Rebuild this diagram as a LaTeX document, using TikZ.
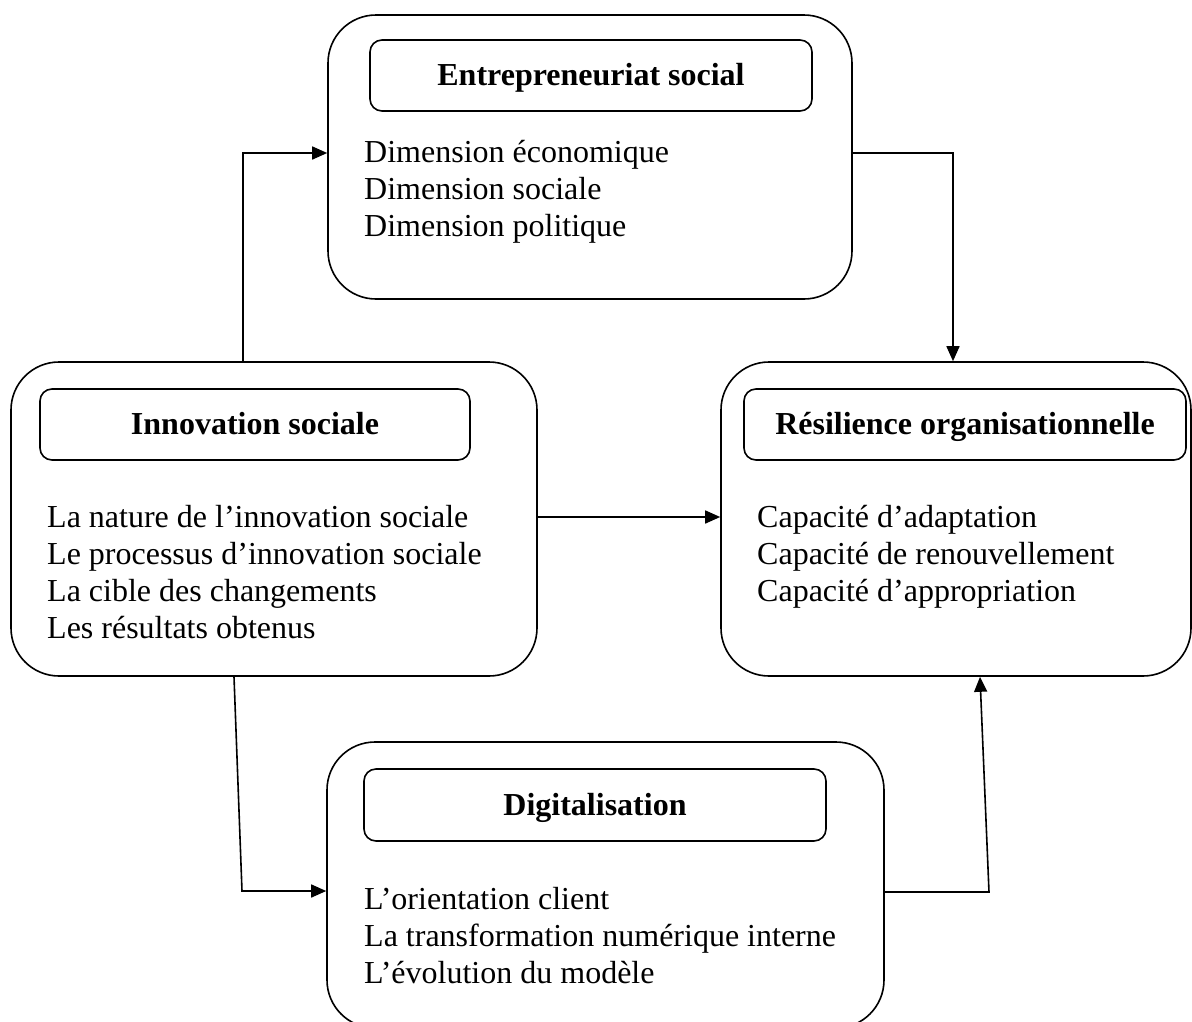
\documentclass[tikz,border=0pt]{standalone}
\usepackage{fontspec}
\setmainfont{Liberation Serif}
\usetikzlibrary{arrows.meta}
\begin{document}
\begin{tikzpicture}[x=1pt,y=-1pt,
  outerbox/.style={draw, line width=1.6pt, rounded corners=48pt, inner sep=0pt},
  titlebox/.style={draw, line width=1.6pt, rounded corners=12pt, inner sep=0pt, text height=25pt, text depth=5pt, font=\fontsize{32}{37}\selectfont\bfseries},
  listtext/.style={anchor=north west, inner sep=0pt, align=left, font=\fontsize{32}{37}\selectfont},
  arr/.style={line width=1.6pt, -{Triangle[length=15pt,width=13pt]}}]
\clip (0,0) rectangle (1192,1021);
\fill[white] (0,0) rectangle (1192,1021);
% outer boxes
\node[outerbox, minimum width=524pt, minimum height=284pt] (ES) at (590,157) {};
\node[outerbox, minimum width=526pt, minimum height=314pt] (IS) at (274,519) {};
\node[outerbox, minimum width=470pt, minimum height=314pt] (RO) at (956,519) {};
\node[outerbox, minimum width=557pt, minimum height=286pt] (DG) at (605.5,885) {};
% title boxes
\node[titlebox, minimum width=442pt, minimum height=71pt] (EST) at (591,75.5) {Entrepreneuriat social};
\node[titlebox, minimum width=430pt, minimum height=71pt] (IST) at (255,424.5) {Innovation sociale};
\node[titlebox, minimum width=442pt, minimum height=71pt] (ROT) at (965,424.5) {Résilience organisationnelle};
\node[titlebox, minimum width=462pt, minimum height=72pt] (DGT) at (595,805) {Digitalisation};
% list texts
\node[listtext] (ESL) at (364,140) {Dimension économique\\Dimension sociale\\Dimension politique};
\node[listtext] (ISL) at (47,505) {La nature de l’innovation sociale\\Le processus d’innovation sociale\\La cible des changements\\Les résultats obtenus};
\node[listtext] (ROL) at (757,505) {Capacité d’adaptation\\Capacité de renouvellement\\Capacité d’appropriation};
\node[listtext] (DGL) at (364,887) {L’orientation client\\La transformation numérique interne\\L’évolution du modèle};
% connector bends
\coordinate (a1) at (243,153);
\coordinate (a2) at (953,153);
\coordinate (a3) at (0,517);
\coordinate (a4s) at (234,0);
\coordinate (a4) at (242,891);
\coordinate (a5) at (989,892);
\coordinate (a5e) at (980,0);
% connectors
\draw[arr] (a1 |- IS.north) -- (a1) -- (a1 -| ES.west);
\draw[arr] (a2 -| ES.east) -- (a2) -- (a2 |- RO.north);
\draw[arr] (a3 -| IS.east) -- (a3 -| RO.west);
\draw[arr] (a4s |- IS.south) -- (a4) -- (a4 -| DG.west);
\draw[arr] (a5 -| DG.east) -- (a5) -- (a5e |- RO.south);
\end{tikzpicture}
\end{document}
